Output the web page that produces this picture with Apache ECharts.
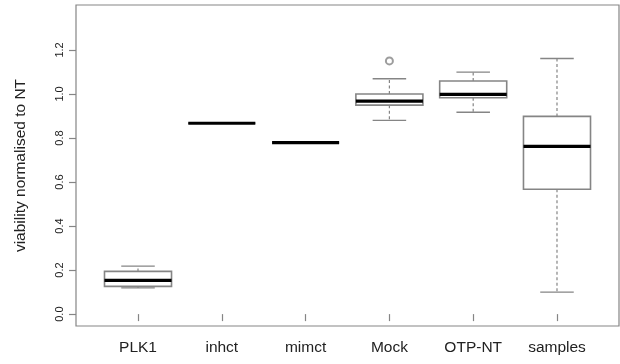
<!DOCTYPE html>
<html>
<head>
<meta charset="utf-8">
<script src="https://cdn.jsdelivr.net/npm/echarts@6/dist/echarts.min.js"></script>
<style>
    html, body { margin: 0; padding: 0; background: #fff; }
    #box-chart { width: 620px; height: 364px; }
</style>
</head>
<body>
<div id="box-chart"></div>
<script>
var categories = ['PLK1', 'inhct', 'mimct', 'Mock', 'OTP-NT', 'samples'];
var whisker_low = [0.119, 0.867, 0.779, 0.880, 0.917, 0.100];
var box_low = [0.126, 0.867, 0.779, 0.949, 0.983, 0.567];
var medians = [0.153, 0.867, 0.779, 0.967, 0.998, 0.762];
var box_high = [0.194, 0.867, 0.779, 1.000, 1.059, 0.898];
var whisker_high = [0.218, 0.867, 0.779, 1.069, 1.099, 1.161];
// outliers as [category position, value]
var outliers = [[4, 1.150]];
var y_ticks = [0, 0.2, 0.4, 0.6, 0.8, 1.0, 1.2];
var x_ticks = [1, 2, 3, 4, 5, 6];

var line_grey = '#858585';
var txt_color = '#222';
var font = "'Liberation Sans', Arial, sans-serif";

var box_data = [];
for (var i = 0; i < categories.length; i++) {
    box_data.push([i + 1, whisker_low[i], box_low[i], medians[i], box_high[i], whisker_high[i]]);
}

function render_box(params, api) {
    var x = api.value(0);
    var half = 0.4;
    var cap = 0.2;
    var p_wlo = api.coord([x, api.value(1)]);
    var p_q1 = api.coord([x, api.value(2)]);
    var p_q3 = api.coord([x, api.value(4)]);
    var p_whi = api.coord([x, api.value(5)]);
    var left = api.coord([x - half, api.value(3)]);
    var right = api.coord([x + half, api.value(3)]);
    var cap_l = api.coord([x - cap, 0])[0];
    var cap_r = api.coord([x + cap, 0])[0];

    var dashed = { stroke: line_grey, lineWidth: 1.2, lineDash: [3, 2.5], fill: null };
    var solid = { stroke: line_grey, lineWidth: 1.4, fill: null };

    return {
        type: 'group',
        children: [
            { type: 'line', shape: { x1: p_q3[0], y1: p_q3[1], x2: p_whi[0], y2: p_whi[1] }, style: dashed },
            { type: 'line', shape: { x1: p_q1[0], y1: p_q1[1], x2: p_wlo[0], y2: p_wlo[1] }, style: dashed },
            { type: 'line', shape: { x1: cap_l, y1: p_whi[1], x2: cap_r, y2: p_whi[1] }, style: solid },
            { type: 'line', shape: { x1: cap_l, y1: p_wlo[1], x2: cap_r, y2: p_wlo[1] }, style: solid },
            {
                type: 'rect',
                shape: { x: left[0], y: p_q3[1], width: right[0] - left[0], height: p_q1[1] - p_q3[1] },
                style: { stroke: line_grey, lineWidth: 1.6, fill: '#fff' }
            },
            {
                type: 'line',
                shape: { x1: left[0], y1: left[1], x2: right[0], y2: right[1] },
                style: { stroke: '#000', lineWidth: 3.2 }
            }
        ]
    };
}

var chart = echarts.init(document.getElementById('box-chart'));

var option = {
    animation: false,
    backgroundColor: '#fff',
    grid: {
        left: 76,
        right: 1,
        top: 5,
        bottom: 38,
        show: true,
        borderColor: line_grey,
        borderWidth: 1.2
    },
    xAxis: {
        type: 'value',
        min: 0.26,
        max: 6.74,
        splitLine: { show: false },
        axisLine: { show: false },
        axisTick: {
            show: true,
            customValues: x_ticks,
            length: 7,
            lineStyle: { color: line_grey, width: 1.2 }
        },
        axisLabel: {
            customValues: x_ticks,
            margin: 14,
            fontSize: 15.5,
            fontFamily: font,
            color: txt_color,
            formatter: function (v) {
                return categories[Math.round(v) - 1];
            }
        }
    },
    yAxis: {
        type: 'value',
        min: -0.054,
        max: 1.404,
        name: 'viability normalised to NT',
        nameLocation: 'middle',
        nameGap: 47,
        nameTextStyle: {
            fontSize: 15.5,
            fontFamily: font,
            color: txt_color
        },
        splitLine: { show: false },
        axisLine: { show: false },
        axisTick: {
            show: true,
            customValues: y_ticks,
            length: 7,
            lineStyle: { color: line_grey, width: 1.2 }
        },
        axisLabel: {
            customValues: y_ticks,
            rotate: 90,
            margin: 11,
            fontSize: 11,
            fontFamily: font,
            color: txt_color,
            formatter: function (v) {
                return v.toFixed(1);
            }
        }
    },
    series: [
        {
            type: 'custom',
            renderItem: render_box,
            encode: { x: 0, y: [1, 2, 3, 4, 5] },
            data: box_data
        },
        {
            type: 'scatter',
            symbol: 'emptyCircle',
            symbolSize: 7,
            itemStyle: { color: line_grey, borderColor: line_grey, borderWidth: 1.3 },
            data: outliers
        }
    ]
};

chart.setOption(option);
</script>
</body>
</html>
